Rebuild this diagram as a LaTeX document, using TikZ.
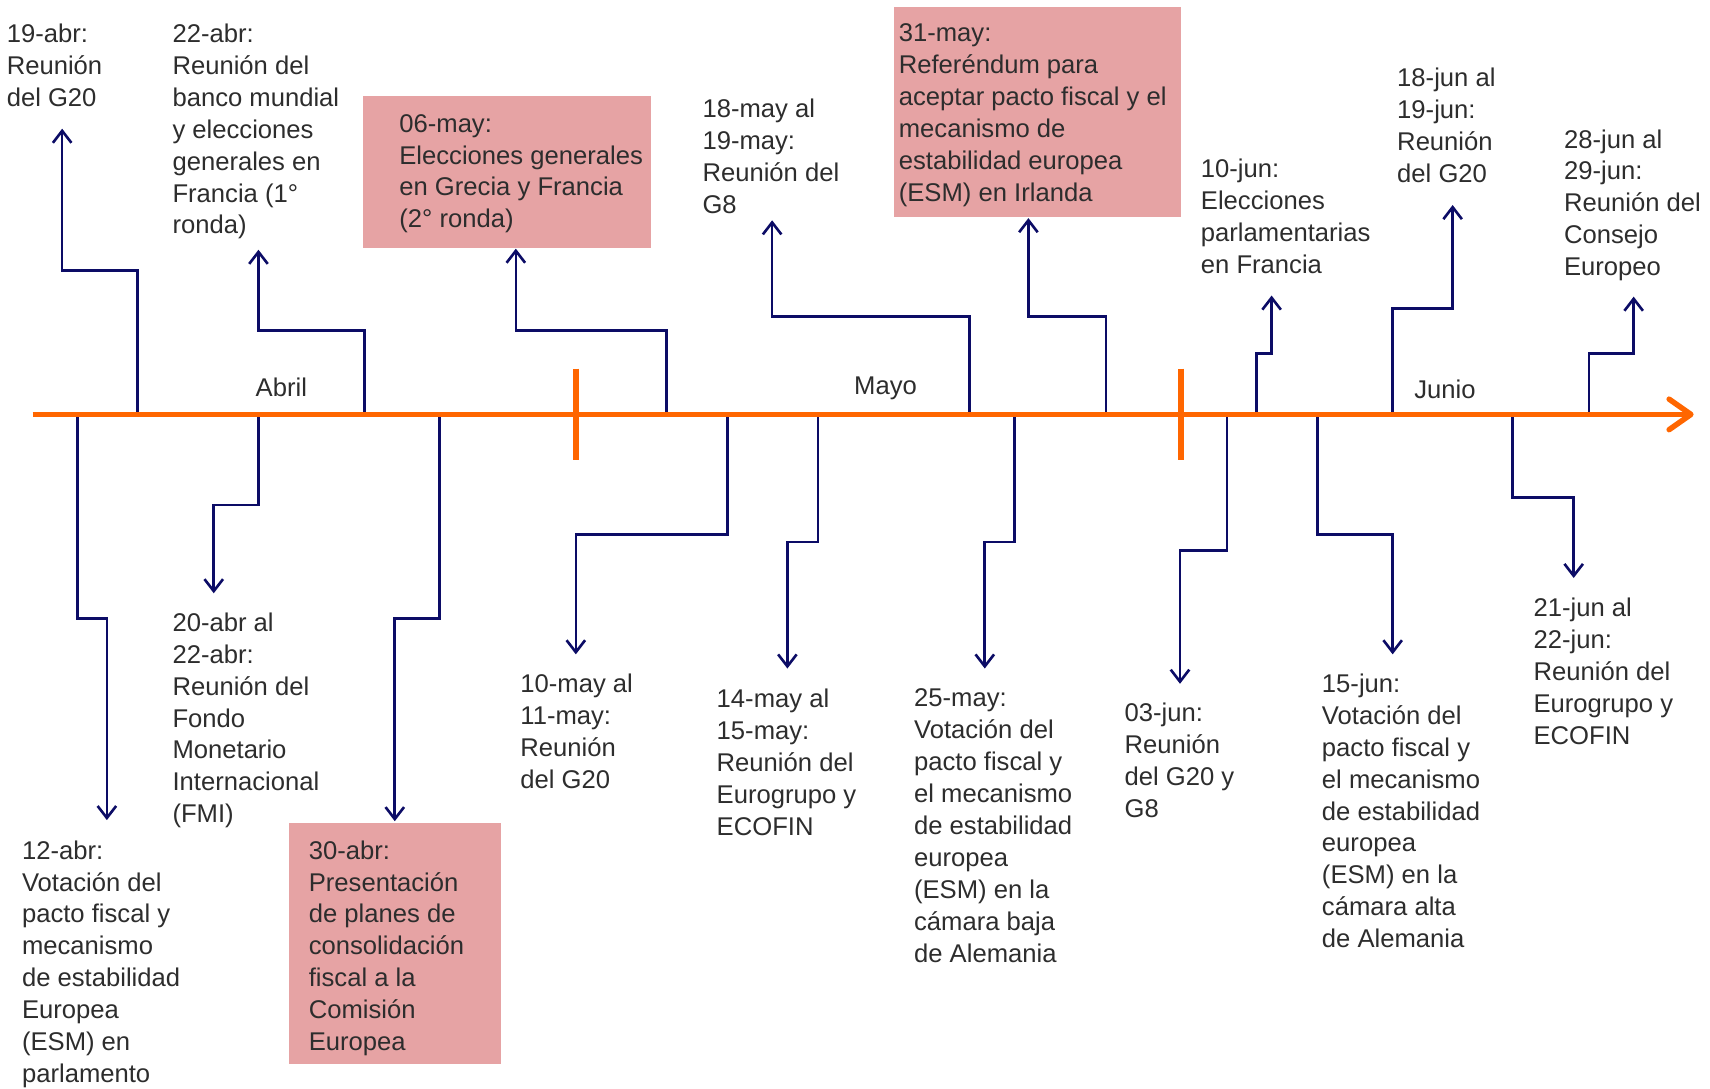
\documentclass[tikz,border=0pt]{standalone}
\usepackage{fontspec}
\setmainfont{Liberation Sans}
\usetikzlibrary{arrows.meta}
\definecolor{tlorange}{RGB}{255,102,0}
\definecolor{navyline}{RGB}{12,12,102}
\definecolor{boxpink}{RGB}{230,163,164}
\definecolor{txtgray}{RGB}{45,45,45}
\begin{document}
\begin{tikzpicture}[x=1pt,y=-1pt,
  lbl/.style={anchor=north west, inner sep=0pt, align=left, text=txtgray,
    font=\fontsize{23.5}{29.3}\selectfont},
  month/.style={anchor=center, inner sep=0pt, text=txtgray,
    font=\fontsize{23.5}{29.3}\selectfont},
  pinkbox/.style={fill=boxpink, draw=none, inner sep=0pt, anchor=north west},
  conn/.style={draw=navyline, line width=2.4pt,
    -{Straight Barb[length=11pt,width=17pt,line width=2.4pt]}},
  tl/.style={draw=tlorange, line width=5pt,
    -{Straight Barb[length=20pt,width=28pt,line width=5pt,round]}},
  tick/.style={draw=tlorange, line width=5pt}]
\useasboundingbox (0,0) rectangle (1568,998);

% pink boxes
\node[pinkbox, minimum width=264pt, minimum height=139pt] (bx06) at (333,88) {};
\node[pinkbox, minimum width=263pt, minimum height=193pt] (bx31) at (820,6) {};
\node[pinkbox, minimum width=194pt, minimum height=221pt] (bx30) at (265,754) {};

% labels above
\node[lbl] (l19abr) at (6,21.5) {19-abr:\\Reunión\\del G20};
\node[lbl] (l22abr) at (158,21.5) {22-abr:\\Reunión del\\banco mundial\\y elecciones\\generales en\\Francia (1°\\ronda)};
\node[lbl] (l06may) at (366,104.5) {06-may:\\Elecciones generales\\en Grecia y Francia\\(2° ronda)};
\node[lbl] (l18may) at (644,90.5) {18-may al\\19-may:\\Reunión del\\G8};
\node[lbl] (l31may) at (824,21.5) {31-may:\\Referéndum para\\aceptar pacto fiscal y el\\mecanismo de\\estabilidad europea\\(ESM) en Irlanda};
\node[lbl] (l10jun) at (1101,145.5) {10-jun:\\Elecciones\\parlamentarias\\en Francia};
\node[lbl] (l18jun) at (1281,62.5) {18-jun al\\19-jun:\\Reunión\\del G20};
\node[lbl] (l28jun) at (1434,118.5) {28-jun al\\29-jun:\\Reunión del\\Consejo\\Europeo};

% labels below
\node[lbl] (l12abr) at (20,770.5) {12-abr:\\Votación del\\pacto fiscal y\\mecanismo\\de estabilidad\\Europea\\(ESM) en\\parlamento};
\node[lbl] (l20abr) at (158,561.5) {20-abr al\\22-abr:\\Reunión del\\Fondo\\Monetario\\Internacional\\(FMI)};
\node[lbl] (l30abr) at (283,770.5) {30-abr:\\Presentación\\de planes de\\consolidación\\fiscal a la\\Comisión\\Europea};
\node[lbl] (l10may) at (477,617.5) {10-may al\\11-may:\\Reunión\\del G20};
\node[lbl] (l14may) at (657,631.5) {14-may al\\15-may:\\Reunión del\\Eurogrupo y\\ECOFIN};
\node[lbl] (l25may) at (838,631.5) {25-may:\\Votación del\\pacto fiscal y\\el mecanismo\\de estabilidad\\europea\\(ESM) en la\\cámara baja\\de Alemania};
\node[lbl] (l03jun) at (1031,644.5) {03-jun:\\Reunión\\del G20 y\\G8};
\node[lbl] (l15jun) at (1212,617.5) {15-jun:\\Votación del\\pacto fiscal y\\el mecanismo\\de estabilidad\\europea\\(ESM) en la\\cámara alta\\de Alemania};
\node[lbl] (l21jun) at (1406,548.5) {21-jun al\\22-jun:\\Reunión del\\Eurogrupo y\\ECOFIN};

% months
\node[month] (mabr) at (258,355) {Abril};
\node[month] (mmay) at (812,356) {Mayo};
\node[month] (mjun) at (1325,357) {Junio};

% base coordinates on timeline and arrow tips
\foreach \n/\x in {b19abr/126, b22abr/334, b06may/611, b18may/889, b31may/1014, b10jun/1152, b18jun/1277, b28jun/1457,
  b12abr/71, b20abr/237, b30abr/403, b10may/667, b14may/750, b25may/930, b03jun/1125, b15jun/1208, b21jun/1387}
  \coordinate (\n) at (\x,380);
\coordinate (t19abr) at (57,118);
\coordinate (t22abr) at (237,229);
\coordinate (t06may) at (473,228);
\coordinate (t18may) at (708,202);
\coordinate (t31may) at (943,200);
\coordinate (t10jun) at (1166,271);
\coordinate (t18jun) at (1332,188);
\coordinate (t28jun) at (1498,272);
\coordinate (t12abr) at (98,752);
\coordinate (t20abr) at (196,544);
\coordinate (t30abr) at (362,753);
\coordinate (t10may) at (528,600);
\coordinate (t14may) at (722,613);
\coordinate (t25may) at (903,613);
\coordinate (t03jun) at (1082,627);
\coordinate (t15jun) at (1277,600);
\coordinate (t21jun) at (1443,530);

% connectors up
\draw[conn] (b19abr) -- (b19abr |- 0,248) -| (t19abr);
\draw[conn] (b22abr) -- (b22abr |- 0,303) -| (t22abr);
\draw[conn] (b06may) -- (b06may |- 0,303) -| (t06may);
\draw[conn] (b18may) -- (b18may |- 0,290) -| (t18may);
\draw[conn] (b31may) -- (b31may |- 0,290) -| (t31may);
\draw[conn] (b10jun) -- (b10jun |- 0,324) -| (t10jun);
\draw[conn] (b18jun) -- (b18jun |- 0,283) -| (t18jun);
\draw[conn] (b28jun) -- (b28jun |- 0,324) -| (t28jun);
% connectors down
\draw[conn] (b12abr) -- (b12abr |- 0,567) -| (t12abr);
\draw[conn] (b20abr) -- (b20abr |- 0,463) -| (t20abr);
\draw[conn] (b30abr) -- (b30abr |- 0,567) -| (t30abr);
\draw[conn] (b10may) -- (b10may |- 0,490) -| (t10may);
\draw[conn] (b14may) -- (b14may |- 0,497) -| (t14may);
\draw[conn] (b25may) -- (b25may |- 0,497) -| (t25may);
\draw[conn] (b03jun) -- (b03jun |- 0,505) -| (t03jun);
\draw[conn] (b15jun) -- (b15jun |- 0,490) -| (t15jun);
\draw[conn] (b21jun) -- (b21jun |- 0,456) -| (t21jun);

% timeline
\coordinate (tlstart) at (30,380);
\coordinate (tlend) at (1553,380);
\draw[tl] (tlstart) -- (tlend);
\coordinate (k1a) at (528,338);
\coordinate (k1b) at (528,422);
\coordinate (k2a) at (1083,338);
\coordinate (k2b) at (1083,422);
\draw[tick] (k1a) -- (k1b);
\draw[tick] (k2a) -- (k2b);
\end{tikzpicture}
\end{document}
